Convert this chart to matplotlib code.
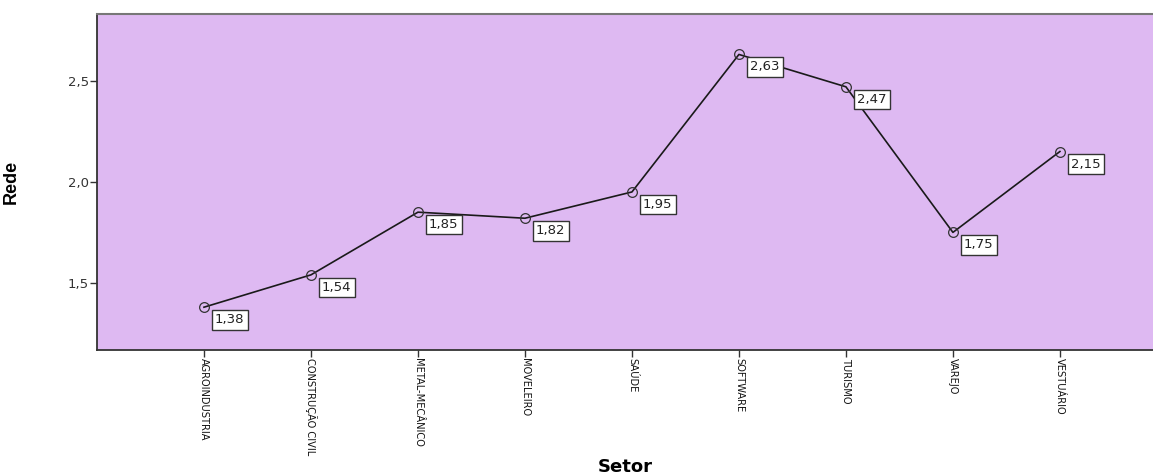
import matplotlib
matplotlib.use('Agg')
import os
import matplotlib.pyplot as plt
from matplotlib import font_manager

setores = ['AGROINDUSTRIA', 'CONSTRUÇÃO CIVIL', 'METAL-MECÂNICO', 'MOVELEIRO', 'SAÚDE',
           'SOFTWARE', 'TURISMO', 'VAREJO', 'VESTUÁRIO']
rede = [1.38, 1.54, 1.85, 1.82, 1.95, 2.63, 2.47, 1.75, 2.15]
yticks = [1.5, 2.0, 2.5]
ytick_labels = ['1,5', '2,0', '2,5']


def acha_fonte_estreita():
    # procura uma fonte "narrow"/"condensed" instalada (os rotulos do eixo x sao estreitos)
    achadas = []
    for f in font_manager.findSystemFonts():
        nome = os.path.basename(f).lower()
        if ('narrow' in nome or 'condensed' in nome) and 'bold' not in nome \
                and 'italic' not in nome and 'oblique' not in nome and 'light' not in nome:
            achadas.append(f)
    for pref in ['liberationsansnarrow', 'dejavusanscondensed', 'roboto', 'opensans', 'noto']:
        for f in achadas:
            if os.path.basename(f).lower().replace('-', '').replace('_', '').startswith(pref):
                return f
    return achadas[0] if achadas else None


arq = acha_fonte_estreita()
if arq:
    fp_x = font_manager.FontProperties(fname=arq, size=7.9)
else:
    fp_x = font_manager.FontProperties(family='Liberation Sans', size=7.0)

fig = plt.figure(figsize=(11.53, 4.75), dpi=100)
ax = fig.add_axes([0.0841, 0.263, 0.9159, 0.7075])
ax.set_facecolor('#DEB9F2')

x = list(range(len(setores)))
ax.plot(x, rede, color='#1a1a1a', lw=1.2, marker='o', ms=7, mfc='none', mec='#333333', mew=0.9)

# rotulos de valor com caixa branca
for xi, v in zip(x, rede):
    ax.annotate(('%.2f' % v).replace('.', ','), (xi, v), xytext=(11, -6), textcoords='offset pixels',
                ha='left', va='top', fontsize=9.5, family='DejaVu Sans', color='#222222',
                bbox=dict(boxstyle='square,pad=0.25', fc='white', ec='#333333', lw=1.0))

ax.set_xlim(-1, 8.87)
ax.set_ylim(1.168, 2.83)
ax.set_xticks(x)
ax.set_xticklabels(setores, rotation=270, ha='center', va='top', fontproperties=fp_x, color='#111111')
ax.set_yticks(yticks)
ax.set_yticklabels(ytick_labels, fontsize=9.5, family='DejaVu Sans', color='#333333')
ax.tick_params(axis='both', length=5, width=1, color='#333333', pad=1)

ax.spines['right'].set_visible(False)
ax.spines['top'].set_color('#777777')
ax.spines['top'].set_linewidth(1.5)
for s in ['left', 'bottom']:
    ax.spines[s].set_color('#333333')
    ax.spines[s].set_linewidth(1.3)

ax.set_ylabel('Rede', fontsize=13, fontweight='bold', family='Liberation Sans')
ax.yaxis.set_label_coords(-0.073, 0.5)
ax.set_xlabel('Setor', fontsize=13, fontweight='bold', family='DejaVu Sans', va='center')
ax.xaxis.set_label_coords(0.5, -0.348)

fig.savefig('out.png', dpi=100)
